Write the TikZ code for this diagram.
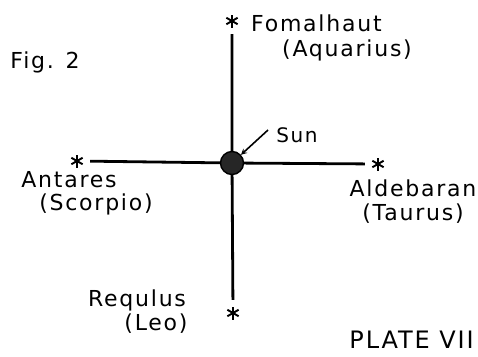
\documentclass[tikz,border=0pt]{standalone}
\usepackage{fontspec}
\setmainfont{DejaVu Sans}[LetterSpace=8]
\usepackage{tikz}

\begin{document}
\begin{tikzpicture}[x=1pt,y=-1pt,
    lbl/.style={font=\fontsize{22}{26}\selectfont,inner sep=0pt},
    starmark/.style={circle,minimum size=26pt,inner sep=0pt,
      path picture={
        \foreach \a in {90,30,-30}
          \draw[line width=1.9pt] ([shift={(\a:6.5)}]path picture bounding box.center)
            -- ([shift={(\a+180:6.5)}]path picture bounding box.center);}},
    axis/.style={line width=2.8pt},
    sunball/.style={circle,fill=black!85,draw=black,line width=1.4pt,minimum size=23pt,inner sep=0pt}]
  \useasboundingbox (0,0) rectangle (478,356);

  % sun in the middle, four stars round it
  \begin{scope}
    \node[sunball] (sun) at (232,163) {};
    \node[starmark] (fomal) at (232,21) {};
    \node[starmark] (antar) at (77,161) {};
    \node[starmark] (alde) at (378,164) {};
    \node[starmark] (regul) at (233,313) {};
    \draw[axis] (fomal) -- (sun) -- (regul);
    \draw[axis] (antar) -- (sun) -- (alde);
  \end{scope}

  % names of the stars
  \begin{scope}
    \node[lbl,anchor=west] (fomallbl) at (251,23) {Fomalhaut};
    \node[lbl] (aqualbl) at (347,50) {(Aquarius)};
    \node[lbl] (antarlbl) at (69,180) {Antares};
    \node[lbl] (scorlbl) at (96,204) {(Scorpio)};
    \node[lbl] (aldelbl) at (413,188) {Aldebaran};
    \node[lbl] (taurlbl) at (413,214) {(Taurus)};
    \node[lbl] (regullbl) at (137,300) {Requlus};
    \node[lbl] (leolbl) at (156,324) {(Leo)};
  \end{scope}

  % sun label with its arrow
  \node[lbl,font=\fontsize{20}{24}\selectfont] (sunlbl) at (297,135) {Sun};
  \coordinate (suntail) at (268,130);
  \draw[->,>=stealth,line width=1.6pt] (suntail) -- (sun);

  % captions
  \node[lbl] (figlbl) at (45,62) {Fig. 2};
  \node[lbl,anchor=east,font=\fontsize{24}{28}\selectfont] (platelbl) at (474,340) {PLATE VII};
\end{tikzpicture}
\end{document}
